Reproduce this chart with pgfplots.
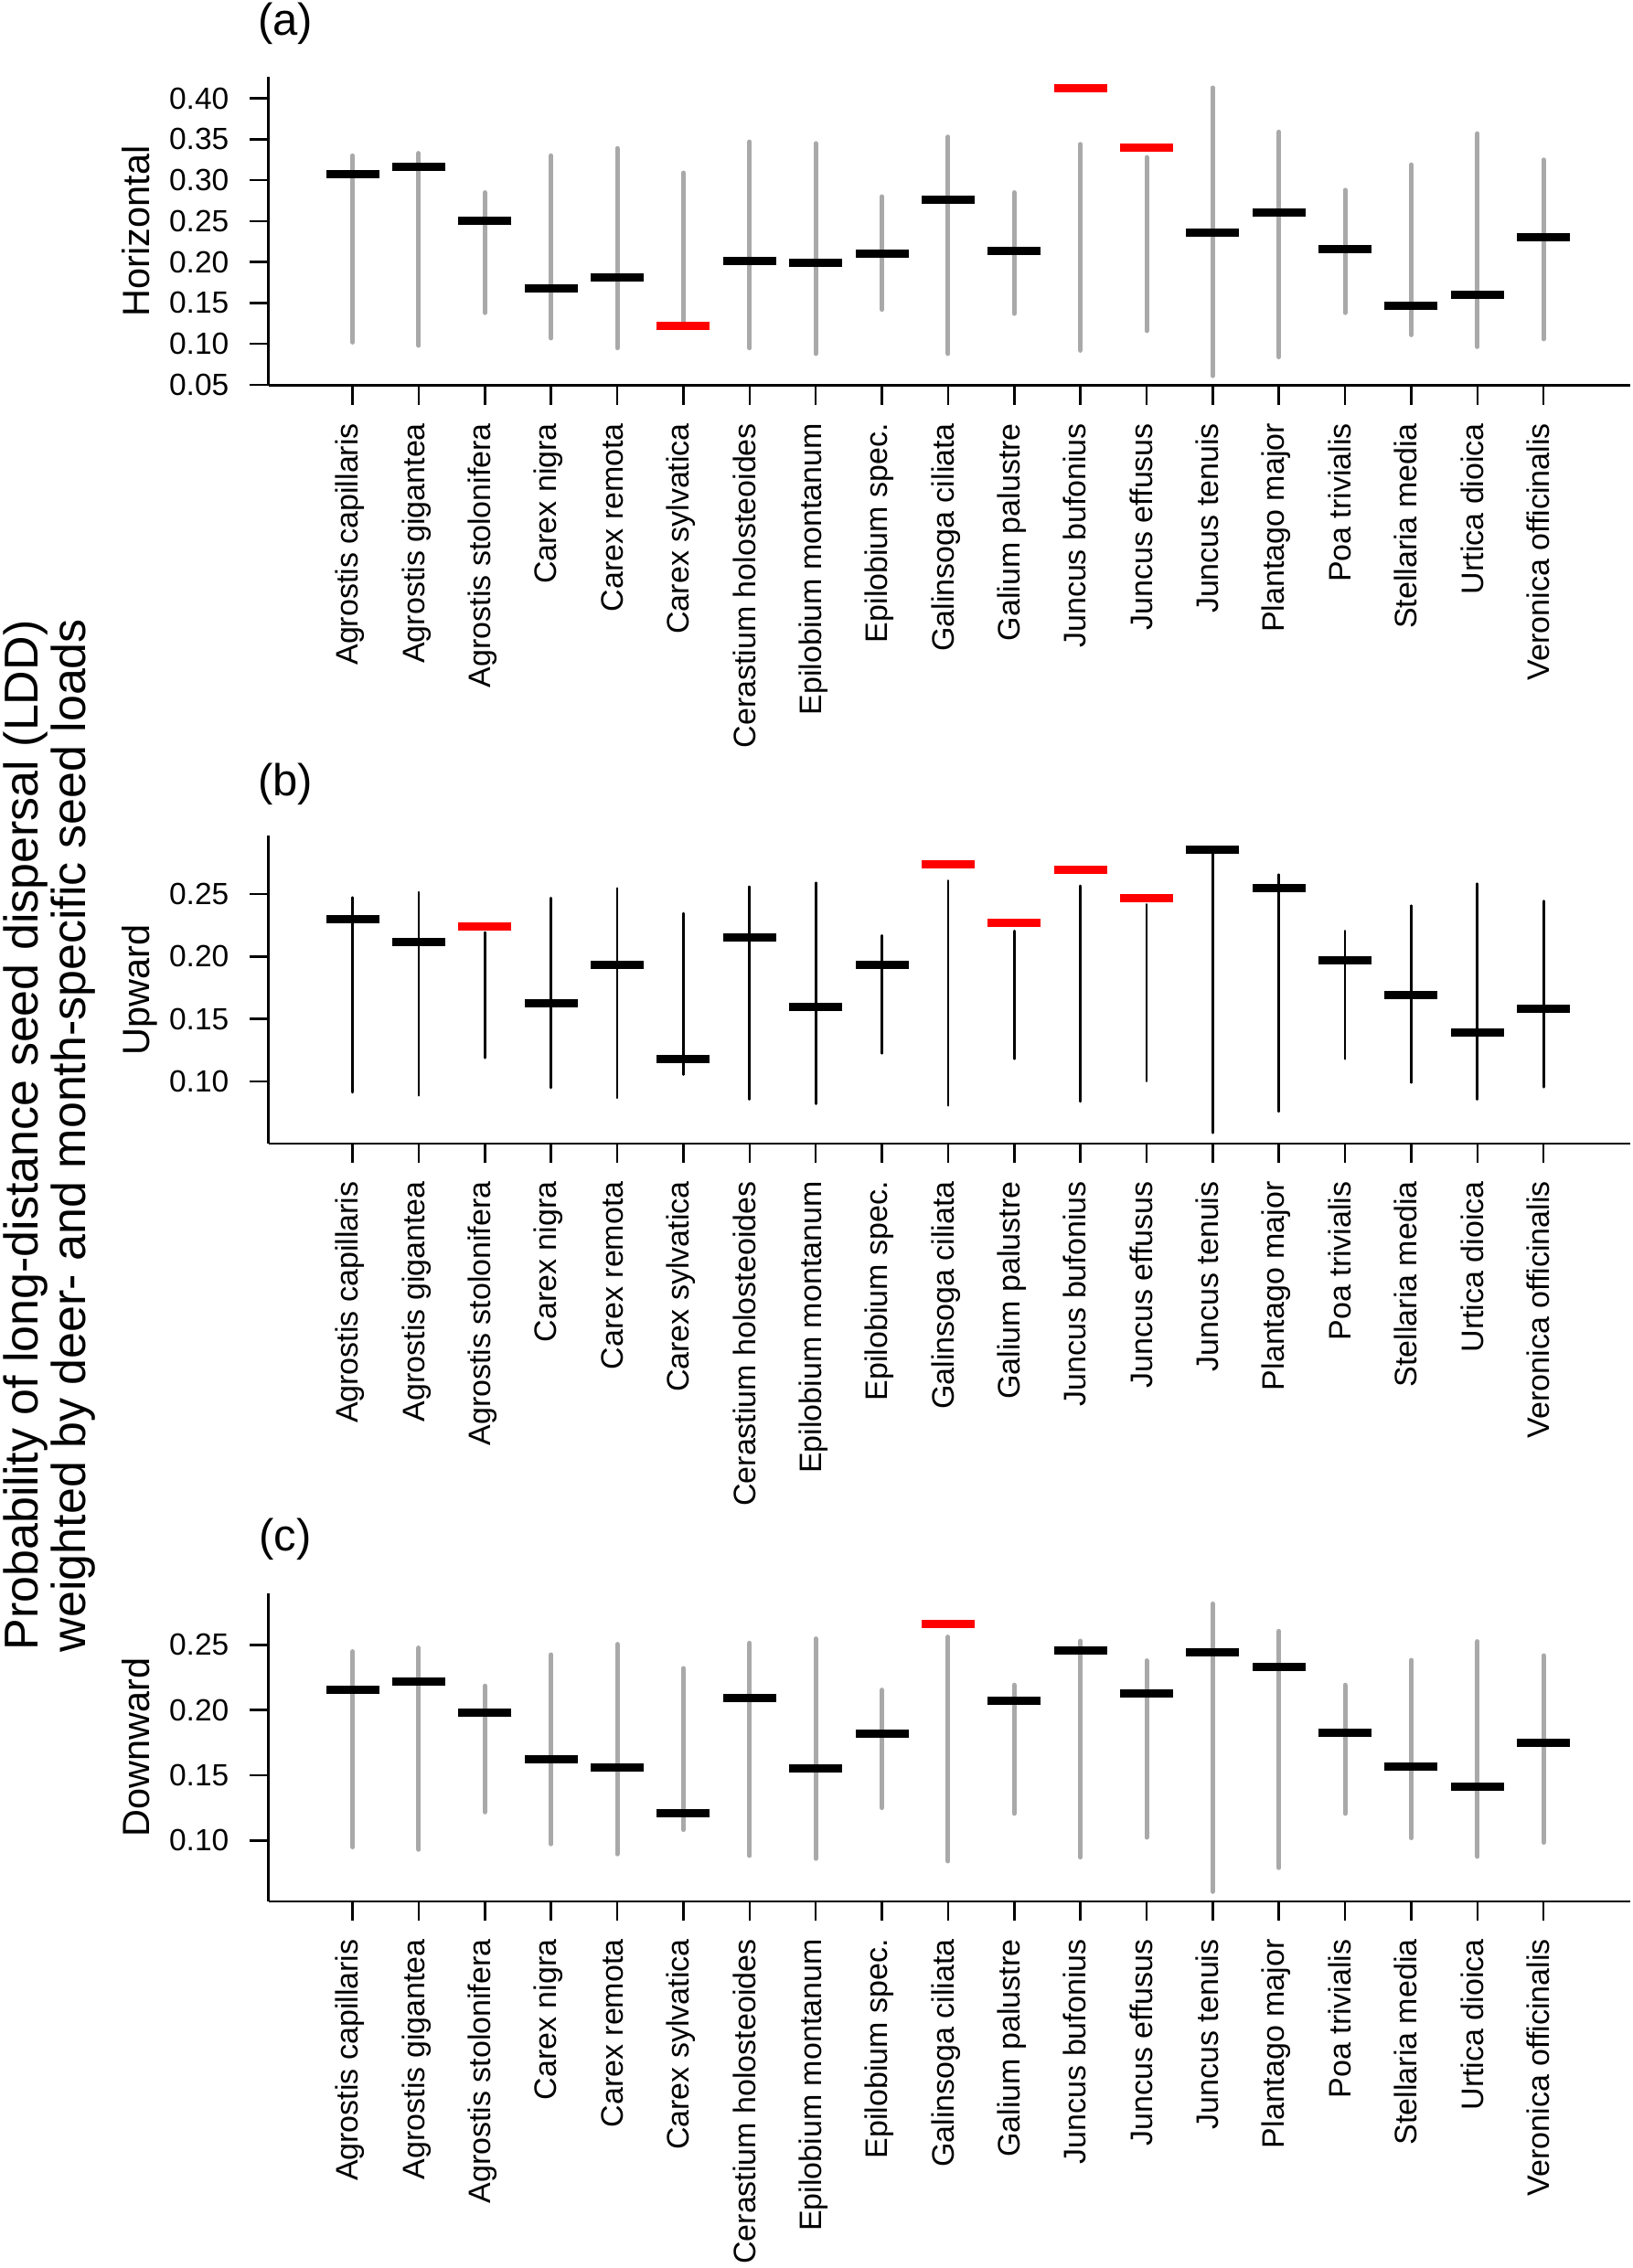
\documentclass[border=0pt]{standalone}
\usepackage{fontspec}
\setmainfont{Liberation Sans}
\usepackage{pgfplots}
\usepackage{pgfplotstable}
\pgfplotsset{compat=1.18}
\definecolor{rgray}{HTML}{A9A9A9}

\pgfplotstableread{
x lo hi med c
1 0.102 0.330 0.307 b
2 0.098 0.333 0.316 b
3 0.138 0.285 0.250 b
4 0.107 0.330 0.168 b
5 0.095 0.339 0.181 b
6 0.125 0.309 0.122 r
7 0.095 0.347 0.2015 b
8 0.088 0.345 0.199 b
9 0.142 0.280 0.2105 b
10 0.088 0.353 0.276 b
11 0.137 0.285 0.214 b
12 0.092 0.344 0.413 r
13 0.116 0.328 0.340 r
14 0.061 0.413 0.2365 b
15 0.084 0.359 0.260 b
16 0.138 0.288 0.216 b
17 0.111 0.319 0.147 b
18 0.0965 0.357 0.160 b
19 0.106 0.325 0.230 b
}\tabA

\pgfplotstableread{
x lo hi med c
1 0.0912 0.2473 0.2302 b
2 0.0888 0.2515 0.2115 b
3 0.1188 0.2193 0.2241 r
4 0.0949 0.2468 0.1627 b
5 0.0868 0.2546 0.1934 b
6 0.1054 0.2346 0.1176 b
7 0.0856 0.2559 0.2149 b
8 0.0820 0.2590 0.1595 b
9 0.1224 0.2168 0.1932 b
10 0.0807 0.2607 0.2741 r
11 0.1180 0.2205 0.2268 r
12 0.0839 0.2566 0.2693 r
13 0.1002 0.2417 0.2466 r
14 0.0588 0.2856 0.2856 b
15 0.0759 0.2656 0.2546 b
16 0.1180 0.2205 0.1971 b
17 0.0990 0.2407 0.1693 b
18 0.0856 0.2583 0.1390 b
19 0.0954 0.2444 0.1583 b
}\tabB

\pgfplotstableread{
x lo hi med c
1 0.0949 0.2449 0.2154 b
2 0.0930 0.2477 0.2215 b
3 0.1217 0.2185 0.1981 b
4 0.0972 0.2425 0.1624 b
5 0.0895 0.2505 0.1558 b
6 0.1082 0.2320 0.1208 b
7 0.0883 0.2514 0.2091 b
8 0.0860 0.2547 0.1554 b
9 0.1250 0.2154 0.1818 b
10 0.0841 0.2561 0.2657 r
11 0.1206 0.2192 0.2068 b
12 0.0871 0.2530 0.2456 b
13 0.1023 0.2379 0.2126 b
14 0.0607 0.2815 0.2446 b
15 0.0790 0.2605 0.2327 b
16 0.1206 0.2192 0.1827 b
17 0.1019 0.2383 0.1563 b
18 0.0876 0.2526 0.1409 b
19 0.0984 0.2418 0.1750 b
}\tabC

\pgfplotsset{
  panel/.style={
    scale only axis, width=744.65pt, anchor=south west,
    xmin=-0.27, xmax=20.31,
    axis x line=bottom, axis y line=left,
    axis line style={-, line width=1.35pt},
    every outer x axis line/.append style={-},
    every outer y axis line/.append style={-},
    xtick={1,...,19},
    xticklabels={Agrostis capillaris,Agrostis gigantea,Agrostis stolonifera,Carex nigra,Carex remota,Carex sylvatica,Cerastium holosteoides,Epilobium montanum,Epilobium spec.,Galinsoga ciliata,Galium palustre,Juncus bufonius,Juncus effusus,Juncus tenuis,Plantago major,Poa trivialis,Stellaria media,Urtica dioica,Veronica officinalis},
    tick align=outside, major tick length=10.5pt,
    major tick style={line width=1.25pt, black},
    minor tick num=0,
    yticklabel style={font=\fontsize{16.75}{20}\selectfont, anchor=east, inner sep=0pt},
    xticklabel style={font=\fontsize{17}{20}\selectfont, rotate=90, anchor=east, inner sep=0pt, text height=0.72em, text depth=0.1em},
    xticklabel shift=10pt, yticklabel shift=11pt,
    clip=false,
  },
  rng/.style 2 args={draw=none, mark=none, forget plot,
    error bars/.cd, y dir=plus, y explicit, error mark=none,
    error bar style={draw=#1, line width=#2, line cap=round}},
  med/.style={only marks, scatter, scatter src=explicit symbolic,
    scatter/classes={
      b={mark=-, draw=black, mark size=14.5pt, line width=4.5pt},
      r={mark=-, draw=red, mark size=14.5pt, line width=4.5pt}}},
}

\begin{document}
\begin{tikzpicture}
\useasboundingbox (0,0) rectangle (892.5pt,1240.5pt);

% panel (a)
\begin{axis}[panel, at={(146.85pt,1029.65pt)}, height=168.7pt,
  ymin=0.0492, ymax=0.4261,
  ytick={0.05,0.10,0.15,0.20,0.25,0.30,0.35,0.40},
  yticklabels={0.05,0.10,0.15,0.20,0.25,0.30,0.35,0.40}]
\addplot[rng={rgray}{2.5pt}]
  table[x=x, y=lo, y error plus expr=\thisrow{hi}-\thisrow{lo}] {\tabA};
\addplot[med] table[x=x, y=med, meta=c] {\tabA};
\end{axis}

% panel (b)
\begin{axis}[panel, at={(146.85pt,615pt)}, height=168.35pt,
  ymin=0.0502, ymax=0.2966,
  ytick={0.10,0.15,0.20,0.25},
  yticklabels={0.10,0.15,0.20,0.25}]
\addplot[rng={black}{1.35pt}]
  table[x=x, y=lo, y error plus expr=\thisrow{hi}-\thisrow{lo}] {\tabB};
\addplot[med] table[x=x, y=med, meta=c] {\tabB};
\end{axis}

% panel (c)
\begin{axis}[panel, at={(146.85pt,200.5pt)}, height=168.65pt,
  ymin=0.0532, ymax=0.2897,
  ytick={0.10,0.15,0.20,0.25},
  yticklabels={0.10,0.15,0.20,0.25}]
\addplot[rng={rgray}{2.5pt}]
  table[x=x, y=lo, y error plus expr=\thisrow{hi}-\thisrow{lo}] {\tabC};
\addplot[med] table[x=x, y=med, meta=c] {\tabC};
\end{axis}

% panel letters
\node[inner sep=0pt, font=\fontsize{24.5}{28}\selectfont] at (156pt,1227.5pt) {(a)};
\node[inner sep=0pt, font=\fontsize{24.5}{28}\selectfont] at (156pt,811.5pt) {(b)};
\node[inner sep=0pt, font=\fontsize{24.5}{28}\selectfont] at (156pt,398.5pt) {(c)};

% axis titles
\node[rotate=90, anchor=base, inner sep=0pt, font=\fontsize{20.75}{24}\selectfont] at (81.5pt,1114pt) {Horizontal};
\node[rotate=90, anchor=base, inner sep=0pt, font=\fontsize{20.75}{24}\selectfont] at (81.5pt,699.2pt) {Upward};
\node[rotate=90, anchor=base, inner sep=0pt, font=\fontsize{20.75}{24}\selectfont] at (81.5pt,284.8pt) {Downward};

% overall y label
\node[rotate=90, anchor=base, inner sep=0pt, font=\fontsize{26}{30}\selectfont] at (20.5pt,619.5pt) {Probability of long-distance seed dispersal (LDD)};
\node[rotate=90, anchor=base, inner sep=0pt, font=\fontsize{26}{30}\selectfont] at (46.5pt,619.5pt) {weighted by deer- and month-specific seed loads};
\end{tikzpicture}
\end{document}
